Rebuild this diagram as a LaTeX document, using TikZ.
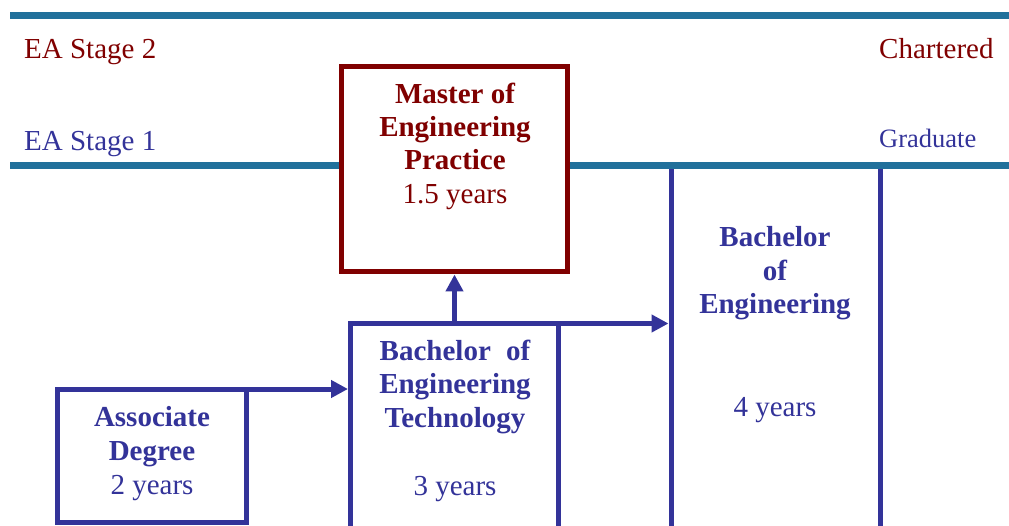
\documentclass[tikz,border=0pt]{standalone}
\usepackage{fontspec}
\setmainfont{Liberation Serif}
\usetikzlibrary{arrows.meta}
\definecolor{teal1}{HTML}{21709B}
\definecolor{dred}{HTML}{800000}
\definecolor{dblue}{HTML}{333399}
\begin{document}
\begin{tikzpicture}[x=1pt,y=-1pt,
  stageline/.style={line width=7pt, draw=teal1},
  bluebox/.style={line width=5pt, draw=dblue, fill=white, inner sep=0pt, outer sep=0pt},
  redbox/.style={line width=5pt, draw=dred, fill=white, inner sep=0pt, outer sep=0pt},
  lbl/.style={anchor=base west, inner sep=0pt, font=\fontsize{29}{33}\selectfont},
  btxt/.style={anchor=base, inner sep=0pt, font=\fontsize{29}{33}\selectfont\bfseries},
  rtxt/.style={anchor=base, inner sep=0pt, font=\fontsize{29}{33}\selectfont},
  arr/.style={line width=5pt, draw=dblue, -{Triangle[length=17pt,width=17pt]}, shorten >=2.5pt}
]
\useasboundingbox (0,0) rectangle (1009,526);
\clip (0,0) rectangle (1009,526);

% boxes open at the bottom
\node[bluebox, minimum width=209pt, minimum height=380pt] (be) at (775.5,355.5) {};
\node[bluebox, minimum width=208pt, minimum height=222pt] (bet) at (454.5,434.5) {};
\node[bluebox, minimum width=189pt, minimum height=133pt] (ad) at (151.5,455.5) {};

% stage lines
\coordinate (l2a) at (10,16);
\coordinate (l2b) at (1009,16);
\coordinate (l1a) at (10,165.5);
\coordinate (l1b) at (1009,165.5);
\draw[stageline] (l2a) -- (l2b);
\draw[stageline] (l1a) -- (l1b);

% master box
\node[redbox, minimum width=226pt, minimum height=205.5pt] (mep) at (454.5,169.25) {};

% arrows
\draw[arr] (ad.north east) -- (ad.north east -| bet.west);
\draw[arr] (bet.north) -- (mep.south);
\draw[arr] (bet.north east) -- (bet.north east -| be.west);

% stage labels
\node[lbl, text=dred] (s2) at (24,59) {EA Stage 2};
\node[lbl, text=dblue] (s1) at (24,151) {EA Stage 1};
\node[lbl, text=dred] (ch) at (879,59) {Chartered};
\node[anchor=base west, inner sep=0pt, font=\fontsize{26.5}{30}\selectfont, text=dblue] (gr) at (879,148) {Graduate};

% master text
\node[btxt, text=dred] (m1) at (455,104) {Master of};
\node[btxt, text=dred] (m2) at (455,137) {Engineering};
\node[btxt, text=dred] (m3) at (455,170) {Practice};
\node[rtxt, text=dred] (m4) at (455,204) {1.5 years};

% BET text
\node[btxt, text=dblue] (t1) at (455,360) {Bachelor\hspace{8pt} of};
\node[btxt, text=dblue] (t2) at (455,393) {Engineering};
\node[btxt, text=dblue] (t3) at (455,427) {Technology};
\node[rtxt, text=dblue] (t4) at (455,495) {3 years};

% BE text
\node[btxt, text=dblue] (e1) at (775,247) {Bachelor};
\node[btxt, text=dblue] (e2) at (775,281) {of};
\node[btxt, text=dblue] (e3) at (775,314) {Engineering};
\node[rtxt, text=dblue] (e4) at (775,416) {4 years};

% AD text
\node[btxt, text=dblue] (a1) at (152,426) {Associate};
\node[btxt, text=dblue] (a2) at (152,460) {Degree};
\node[rtxt, text=dblue] (a3) at (152,494) {2 years};
\end{tikzpicture}
\end{document}
